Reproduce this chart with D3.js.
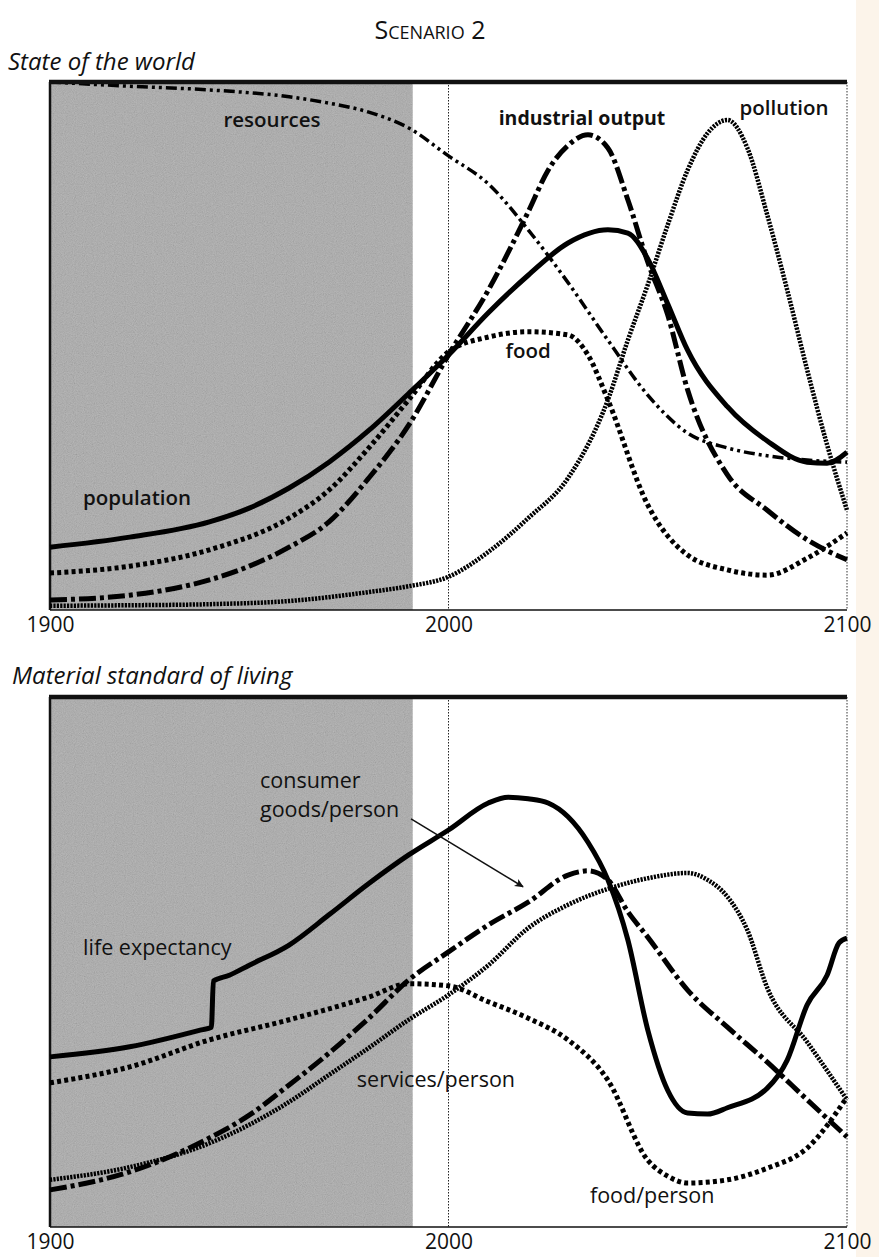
<!DOCTYPE html>
<html>
<head>
<meta charset="utf-8">
<script src="https://cdn.jsdelivr.net/npm/d3@7"></script>
<style>
  body { margin: 0; background: #fff; }
  svg { display: block; }
</style>
</head>
<body>
<svg id="chart"></svg>
<script>
// ---- data (0 = bottom of panel, 100 = top) ----
const tickYears = [1900, 2000, 2100];
const shadeEndYear = 1991;

// State of the world
const populationYears  = [1900, 1920, 1940, 1950, 1960, 1970, 1980, 1990, 2000, 2010, 2020, 2030, 2040, 2045, 2050, 2055, 2060, 2070, 2080, 2090, 2095, 2100];
const populationValues = [11.9, 13.8, 16.7, 19.3, 23.1, 28.0, 34.0, 41.0, 48.3, 56.3, 63.4, 69.5, 72.0, 71.4, 66.5, 58.0, 49.2, 38.5, 32.0, 28.0, 27.8, 29.9];

const resourcesYears  = [1900, 1920, 1940, 1960, 1970, 1980, 1990, 2000, 2010, 2020, 2030, 2040, 2050, 2060, 2070, 2080, 2090, 2100];
const resourcesValues = [100, 99.2, 98.5, 97.2, 96.0, 94.3, 91.3, 86.0, 80.7, 72.0, 62.0, 51.1, 40.7, 33.5, 30.7, 29.2, 28.4, 28.0];

const industryYears  = [1900, 1920, 1940, 1950, 1960, 1970, 1980, 1990, 2000, 2010, 2020, 2025, 2030, 2035, 2040, 2045, 2050, 2055, 2060, 2070, 2080, 2090, 2100];
const industryValues = [1.9, 2.8, 5.7, 8.3, 11.9, 16.7, 25.0, 35.0, 48.3, 60.6, 75.4, 83.3, 88.0, 90.0, 87.5, 77.7, 65.9, 55.9, 41.7, 25.6, 18.9, 13.3, 9.5];

const foodYears  = [1900, 1920, 1940, 1960, 1970, 1980, 1990, 2000, 2010, 2020, 2030, 2035, 2040, 2050, 2060, 2070, 2080, 2090, 2100];
const foodValues = [7.0, 8.3, 11.4, 17.4, 22.7, 30.7, 39.8, 48.9, 51.7, 52.7, 52.1, 48.3, 39.8, 19.9, 10.4, 7.6, 6.6, 9.8, 14.6];

const pollutionYears  = [1900, 1920, 1940, 1960, 1980, 1990, 2000, 2010, 2020, 2030, 2040, 2045, 2050, 2055, 2060, 2065, 2070, 2075, 2080, 2085, 2090, 2095, 2100];
const pollutionValues = [0.8, 0.9, 1.1, 1.7, 3.4, 4.5, 6.3, 11.0, 17.4, 25.0, 39.8, 51.1, 61.6, 72.9, 83.3, 90.3, 92.8, 87.5, 74.8, 60.6, 45.5, 31.3, 18.9];

// Material standard of living
const lifeYears  = [1900, 1920, 1938, 1940.5, 1941, 1945, 1950, 1960, 1970, 1980, 1990, 2000, 2010, 2015, 2020, 2025, 2030, 2035, 2040, 2045, 2050, 2055, 2060, 2065, 2070, 2080, 2085, 2090, 2095, 2098, 2100];
const lifeValues = [32.1, 34.0, 37.2, 37.7, 46.4, 47.5, 49.4, 53.2, 58.9, 64.8, 70.2, 74.9, 80.0, 81.1, 80.8, 80.0, 77.4, 72.6, 65.5, 54.2, 37.2, 25.8, 21.5, 21.3, 22.5, 26.2, 31.5, 41.9, 47.5, 53.6, 54.5];

const goodsYears  = [1900, 1920, 1940, 1950, 1960, 1970, 1980, 1990, 2000, 2010, 2020, 2030, 2035, 2040, 2045, 2050, 2060, 2070, 2080, 2090, 2100];
const goodsValues = [7.0, 10.4, 16.8, 21.1, 26.8, 32.8, 39.4, 46.6, 51.9, 57.0, 61.3, 66.4, 67.2, 65.5, 59.5, 54.7, 44.7, 37.7, 31.1, 24.0, 17.0];

const servicesYears  = [1900, 1920, 1940, 1960, 1970, 1980, 1990, 2000, 2010, 2020, 2030, 2040, 2050, 2060, 2065, 2070, 2075, 2080, 2090, 2100];
const servicesValues = [8.9, 11.3, 15.8, 23.6, 28.7, 33.8, 39.1, 43.8, 49.4, 56.4, 60.8, 63.8, 65.8, 66.8, 65.5, 62.3, 56.0, 45.1, 34.9, 24.0];

const foodPerYears  = [1900, 1920, 1940, 1960, 1980, 1990, 2000, 2010, 2020, 2030, 2040, 2050, 2055, 2060, 2070, 2080, 2090, 2100];
const foodPerValues = [27.2, 30.2, 35.3, 39.1, 43.4, 45.9, 45.5, 42.5, 39.4, 35.3, 27.7, 12.6, 9.6, 8.3, 8.9, 11.1, 14.9, 24.5];

// ---- layout ----
const W = 879, H = 1257;
const left = 50, right = 847;
const font = "'Open Sans', 'DejaVu Sans', sans-serif";

const styles = {
  solid:      { width: 5,   dash: null },
  dashDot:    { width: 5,   dash: "17,4,4,4" },
  dashDotDot: { width: 3.5, dash: "11,4,3,4,3,4" },
  bigDots:    { width: 5,   dash: "4,3.2" },
  fineDots:   { width: 4.5, dash: "2.2,1.2" }
};

const panels = [
  {
    title: "State of the world", titleX: 8, titleY: 70, top: 82, bottom: 610,
    series: [
      { years: pollutionYears, values: pollutionValues, style: "fineDots" },
      { years: foodYears, values: foodValues, style: "bigDots" },
      { years: resourcesYears, values: resourcesValues, style: "dashDotDot" },
      { years: industryYears, values: industryValues, style: "dashDot" },
      { years: populationYears, values: populationValues, style: "solid" }
    ],
    labels: [
      { text: "resources", year: 1955.7, value: 91.5, anchor: "middle", weight: 600, size: 20.5 },
      { text: "industrial output", year: 2033.5, value: 91.9, anchor: "middle", weight: 700, size: 19.5 },
      { text: "pollution", year: 2084.2, value: 93.8, anchor: "middle", weight: 600, size: 20.5 },
      { text: "food", year: 2020, value: 47.7, anchor: "middle", weight: 600, size: 20.5 },
      { text: "population", year: 1908.3, value: 19.9, anchor: "start", weight: 600, size: 20.5 }
    ]
  },
  {
    title: "Material standard of living", titleX: 12, titleY: 684, top: 697, bottom: 1227,
    series: [
      { years: servicesYears, values: servicesValues, style: "fineDots" },
      { years: foodPerYears, values: foodPerValues, style: "bigDots" },
      { years: goodsYears, values: goodsValues, style: "dashDot" },
      { years: lifeYears, values: lifeValues, style: "solid" }
    ],
    labels: [
      { text: "consumer", year: 1952.7, value: 82.8, anchor: "start", weight: 400, size: 21.5 },
      { text: "goods/person", year: 1952.7, value: 77.4, anchor: "start", weight: 400, size: 21.5 },
      { text: "life expectancy", year: 1908.3, value: 51.3, anchor: "start", weight: 400, size: 21.5 },
      { text: "services/person", year: 1977, value: 26.4, anchor: "start", weight: 400, size: 21.5 },
      { text: "food/person", year: 2035.5, value: 4.5, anchor: "start", weight: 400, size: 21.5 }
    ],
    arrow: { from: [1990.6, 77.0], to: [2018.7, 64.2] }
  }
];

const svg = d3.select("#chart").attr("width", W).attr("height", H);

// paper tint on the right margin
svg.append("rect").attr("x", 856).attr("y", 0).attr("width", W - 856).attr("height", H)
  .attr("fill", "#fcf4ea");

const defs = svg.append("defs");
const grain = defs.append("filter").attr("id", "grain")
  .attr("x", 0).attr("y", 0).attr("width", 1).attr("height", 1);
grain.append("feTurbulence").attr("type", "fractalNoise").attr("baseFrequency", 0.9)
  .attr("numOctaves", 2).attr("seed", 7);
grain.append("feColorMatrix").attr("type", "matrix")
  .attr("values", "0.33 0.33 0.33 0 0  0.33 0.33 0.33 0 0  0.33 0.33 0.33 0 0  0 0 0 0 1");

defs.append("marker").attr("id", "arrowhead")
  .attr("viewBox", "0 0 10 10").attr("refX", 9).attr("refY", 5)
  .attr("markerWidth", 13).attr("markerHeight", 9).attr("orient", "auto")
  .attr("markerUnits", "userSpaceOnUse")
  .append("path").attr("d", "M0,0.5 L10,5 L0,9.5 L2.5,5 Z").attr("fill", "#111");

svg.append("text")
  .attr("x", 430).attr("y", 39)
  .attr("text-anchor", "middle")
  .attr("font-family", font).attr("font-size", 25)
  .style("font-variant", "small-caps")
  .attr("fill", "#111")
  .text("Scenario 2");

panels.forEach(p => {
  let x = d3.scaleLinear().domain([1900, 2100]).range([left, right]);
  let y = d3.scaleLinear().domain([0, 100]).range([p.bottom, p.top]);

  let g = svg.append("g");

  g.append("text")
    .attr("x", p.titleX).attr("y", p.titleY)
    .attr("font-family", font).attr("font-size", 24)
    .attr("font-style", "italic").attr("fill", "#111")
    .text(p.title);

  // shaded historical period
  g.append("rect")
    .attr("x", x(1900)).attr("y", p.top)
    .attr("width", x(shadeEndYear) - x(1900)).attr("height", p.bottom - p.top)
    .attr("fill", "#a8a8a8");
  g.append("rect")
    .attr("x", x(1900)).attr("y", p.top)
    .attr("width", x(shadeEndYear) - x(1900)).attr("height", p.bottom - p.top)
    .attr("fill", "#fff").attr("filter", "url(#grain)").attr("opacity", 0.3);

  // 2000 guide line
  g.append("line")
    .attr("x1", x(2000)).attr("x2", x(2000)).attr("y1", p.top).attr("y2", p.bottom)
    .attr("stroke", "#222").attr("stroke-width", 1).attr("stroke-dasharray", "1.5,1.5");

  // frame
  g.append("line").attr("x1", x(2100)).attr("x2", x(2100)).attr("y1", p.top).attr("y2", p.bottom)
    .attr("stroke", "#333").attr("stroke-width", 1).attr("stroke-dasharray", "1.5,1.5");
  g.append("line").attr("x1", x(1900)).attr("x2", x(2100)).attr("y1", p.bottom).attr("y2", p.bottom)
    .attr("stroke", "#111").attr("stroke-width", 1.6);
  g.append("line").attr("x1", x(1900)).attr("x2", x(1900)).attr("y1", p.top).attr("y2", p.bottom)
    .attr("stroke", "#111").attr("stroke-width", 2.5);

  let line = d3.line()
    .x(d => x(d[0])).y(d => y(d[1]))
    .curve(d3.curveMonotoneX);

  p.series.forEach(s => {
    let st = styles[s.style];
    let pts = s.years.map((yr, i) => [yr, s.values[i]]);
    g.append("path")
      .datum(pts)
      .attr("d", line)
      .attr("fill", "none")
      .attr("stroke", "#000")
      .attr("stroke-width", st.width)
      .attr("stroke-linejoin", "round")
      .attr("stroke-dasharray", st.dash);
  });

  g.append("line").attr("x1", x(1900) - 1).attr("x2", x(2100)).attr("y1", p.top).attr("y2", p.top)
    .attr("stroke", "#111").attr("stroke-width", 4.5);

  g.selectAll("text.lbl")
    .data(p.labels)
    .enter()
    .append("text")
    .attr("class", "lbl")
    .attr("x", d => x(d.year))
    .attr("y", d => y(d.value))
    .attr("text-anchor", d => d.anchor)
    .attr("font-family", font)
    .attr("font-size", d => d.size)
    .attr("font-weight", d => d.weight)
    .attr("fill", "#111")
    .text(d => d.text);

  if (p.arrow) {
    g.append("line")
      .attr("x1", x(p.arrow.from[0])).attr("y1", y(p.arrow.from[1]))
      .attr("x2", x(p.arrow.to[0])).attr("y2", y(p.arrow.to[1]))
      .attr("stroke", "#111").attr("stroke-width", 1.6)
      .attr("marker-end", "url(#arrowhead)");
  }

  let axis = g.append("g")
    .attr("transform", `translate(0, ${p.bottom})`)
    .call(d3.axisBottom(x).tickValues(tickYears).tickSize(0).tickFormat(d3.format("d")));
  axis.select(".domain").remove();
  axis.selectAll("text")
    .attr("y", 7)
    .attr("dy", "0.71em")
    .attr("font-family", font)
    .attr("font-size", 21)
    .attr("fill", "#111");
});
</script>
</body>
</html>
